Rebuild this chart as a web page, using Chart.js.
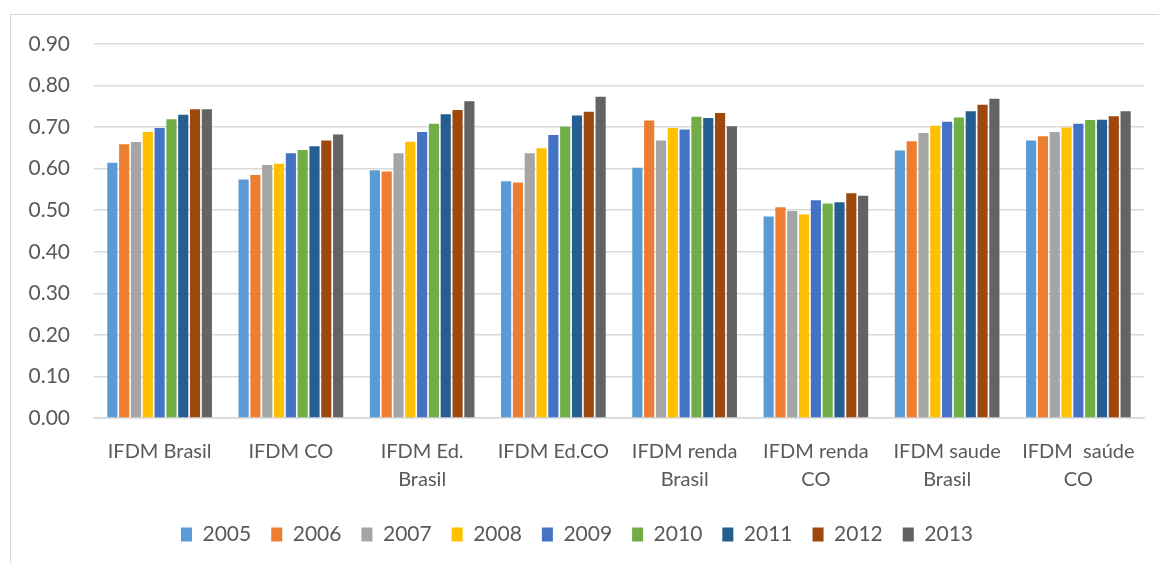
<!DOCTYPE html>
<html>
<head>
<meta charset="utf-8">
<script src="https://cdn.jsdelivr.net/npm/chart.js@4/dist/chart.umd.min.js"></script>
<style>
  html, body { margin: 0; padding: 0; background: #fff; }
  #wrap { position: relative; width: 1159px; height: 563px; overflow: hidden; }
  #frame { position: absolute; left: 10px; top: 14px; width: 1200px; height: 600px; border: 1.5px solid #d9d9d9; box-sizing: border-box; }
  canvas { position: absolute; left: 0; top: 0; }
</style>
</head>
<body>
<div id="wrap">
  <div id="frame"></div>
  <canvas id="ifdmChart" width="1159" height="563"></canvas>
</div>
<script>
const categories = [
  'IFDM Brasil', 'IFDM CO', ['IFDM Ed.', 'Brasil'], 'IFDM Ed.CO',
  ['IFDM renda', 'Brasil'], ['IFDM renda', 'CO'], ['IFDM saude', 'Brasil'], ['IFDM  saúde', 'CO'],
];
const years = ['2005', '2006', '2007', '2008', '2009', '2010', '2011', '2012', '2013'];

const v2005 = [0.614, 0.574, 0.596, 0.570, 0.602, 0.485, 0.644, 0.668];
const v2006 = [0.659, 0.585, 0.593, 0.567, 0.716, 0.507, 0.666, 0.678];
const v2007 = [0.664, 0.609, 0.637, 0.637, 0.668, 0.498, 0.686, 0.688];
const v2008 = [0.688, 0.612, 0.665, 0.649, 0.698, 0.490, 0.703, 0.699];
const v2009 = [0.698, 0.637, 0.688, 0.681, 0.694, 0.524, 0.713, 0.708];
const v2010 = [0.719, 0.645, 0.708, 0.701, 0.725, 0.516, 0.723, 0.717];
const v2011 = [0.730, 0.654, 0.731, 0.728, 0.722, 0.519, 0.738, 0.718];
const v2012 = [0.743, 0.668, 0.741, 0.737, 0.734, 0.541, 0.754, 0.726];
const v2013 = [0.743, 0.682, 0.762, 0.773, 0.702, 0.535, 0.768, 0.738];

const seriesValues = [v2005, v2006, v2007, v2008, v2009, v2010, v2011, v2012, v2013];
const seriesColors = ['#5B9BD5', '#ED7D31', '#A5A5A5', '#FFC000', '#4472C4', '#70AD47', '#255E91', '#9E480E', '#636363'];

const FONT = 'Lato, "Open Sans", sans-serif';
const TEXT = '#595959';
const GRID = '#d9d9d9';

new Chart(document.getElementById('ifdmChart'), {
  type: 'bar',
  data: {
    labels: categories,
    datasets: years.map((y, i) => ({
      label: y,
      data: seriesValues[i],
      backgroundColor: seriesColors[i],
      borderWidth: 0,
      barPercentage: 0.86,
      categoryPercentage: 0.81,
    })),
  },
  options: {
    responsive: false,
    animation: false,
    layout: { padding: { left: 10, right: 15, top: 44, bottom: 8 } },
    plugins: {
      tooltip: { enabled: false },
      legend: {
        position: 'bottom',
        labels: {
          font: { family: FONT, size: 21 },
          color: TEXT,
          boxWidth: 11,
          boxHeight: 14,
          padding: 20,
        },
      },
    },
    scales: {
      x: {
        grid: { display: false },
        border: { color: GRID, width: 1.5 },
        ticks: {
          font: { family: FONT, size: 20, lineHeight: 1.4 },
          color: TEXT,
          padding: 12,
          maxRotation: 0,
          autoSkip: false,
        },
        afterFit: (s) => { s.height = 86; },
      },
      y: {
        min: 0,
        max: 0.9,
        grid: { color: GRID, lineWidth: 1.5, drawTicks: false },
        border: { display: false },
        ticks: {
          stepSize: 0.1,
          font: { family: FONT, size: 21 },
          color: TEXT,
          padding: 24,
          callback: (v) => v.toFixed(2),
        },
        afterFit: (s) => { s.width = 84; },
      },
    },
  },
});
</script>
</body>
</html>
